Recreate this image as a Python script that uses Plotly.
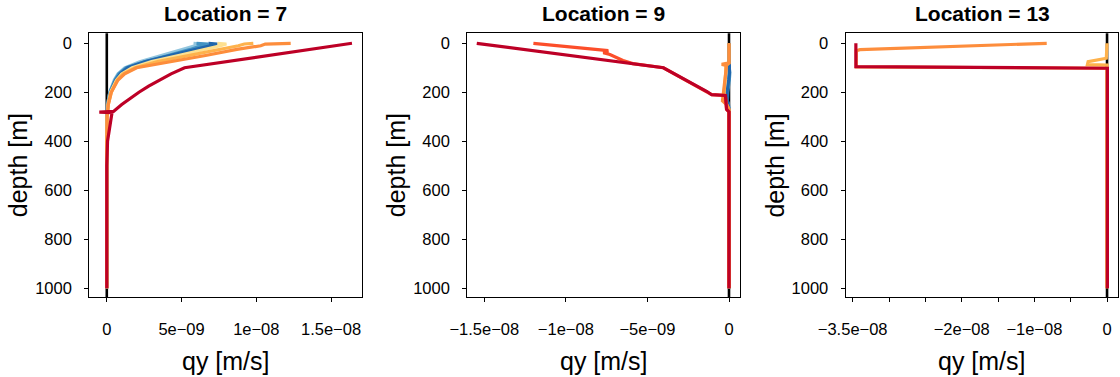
import plotly.graph_objects as go

# ---------------- data (qy in m/s, depth in m) ----------------
# Location 7
loc7_depth = [0, 3, 10, 25, 50, 75, 100, 125, 150, 200, 250, 300, 400, 500, 700, 1000]
loc7_qy_darkblue = [6.8e-9, 7.4e-9, 6.9e-9, 5.9e-9, 4.3e-9, 2.6e-9, 1.4e-9, 0.9e-9, 0.6e-9, 0.25e-9, 0.08e-9, 0.02e-9, 0, 0, 0, 0]
loc7_qy_midblue = [6.0e-9, 6.8e-9, 6.3e-9, 5.6e-9, 4.1e-9, 2.5e-9, 1.3e-9, 0.8e-9, 0.55e-9, 0.2e-9, 0.06e-9, 0.01e-9, 0, 0, 0, 0]
loc7_qy_lightblue = [5.8e-9, 6.3e-9, 5.9e-9, 5.0e-9, 3.6e-9, 2.2e-9, 1.2e-9, 0.75e-9, 0.5e-9, 0.2e-9, 0.05e-9, 0.01e-9, 0, 0, 0, 0]
loc7_qy_yellow = [7.4e-9, 8.0e-9, 7.6e-9, 6.6e-9, 4.8e-9, 3.0e-9, 1.7e-9, 1.0e-9, 0.65e-9, 0.25e-9, 0.08e-9, 0.02e-9, 0, 0, 0, 0]
loc7_qy_lightorange = [9.8e-9, 9.2e-9, 8.8e-9, 7.5e-9, 5.4e-9, 3.4e-9, 1.9e-9, 1.1e-9, 0.7e-9, 0.3e-9, 0.1e-9, 0.02e-9, 0, 0, 0, 0]
loc7_qy_orange = [1.23e-8, 1.06e-8, 1.03e-8, 8.7e-9, 6.6e-9, 4.2e-9, 2.0e-9, 1.2e-9, 0.75e-9, 0.3e-9, 0.1e-9, 0.02e-9, 0, 0, 0, 0]
loc7_red_depth = [0, 100, 125, 150, 175, 200, 225, 250, 278, 281, 283, 400, 500, 1000]
loc7_qy_red = [1.64e-8, 5.2e-9, 4.3e-9, 3.5e-9, 2.8e-9, 2.15e-9, 1.55e-9, 1.0e-9, 0.45e-9, -0.5e-9, 0.35e-9, 0.05e-9, 0, 0]

# Location 9
loc9_depth = [0, 80, 86, 90, 120, 150, 200, 235, 250, 270, 1000]
loc9_qy_darkblue = [0, 0, 0, 0, 0.03e-9, -0.02e-9, -0.12e-9, -0.1e-9, -0.05e-9, 0, 0]
loc9_qy_midblue = [0, 0, 0, 0, 0.05e-9, 0.02e-9, -0.08e-9, -0.1e-9, -0.03e-9, 0, 0]
loc9_qy_lightblue = [0, 0, 0, 0, 0, -0.02e-9, -0.15e-9, -0.12e-9, -0.05e-9, 0, 0]
loc9_qy_yellow = [0, 0, -0.1e-9, -0.2e-9, -0.2e-9, -0.25e-9, -0.3e-9, -0.25e-9, -0.15e-9, 0, 0]
loc9_qy_orange = [0, 0, -0.45e-9, -0.15e-9, -0.2e-9, -0.25e-9, -0.35e-9, -0.4e-9, -0.15e-9, 0, 0]
loc9_redorange_depth = [0, 30, 38, 46, 70, 83, 100, 197, 210, 213, 270, 280, 1000]
loc9_qy_redorange = [-1.199e-8, -7.4e-9, -7.7e-9, -7.3e-9, -6.5e-9, -5.9e-9, -4.02e-9, -1.35e-9, -1.06e-9, -0.22e-9, -0.15e-9, 0, 0]
loc9_red_depth = [0, 100, 197, 210, 213, 270, 280, 1000]
loc9_qy_red = [-1.546e-8, -4.02e-9, -1.35e-9, -1.06e-9, -0.22e-9, -0.15e-9, 0, 0]

# Location 13
loc13_lightorange_depth = [0, 61, 75, 87, 89, 1000]
loc13_qy_lightorange = [0, -0.1e-9, -2.6e-9, -2.7e-9, 0, 0]
loc13_orange_depth = [0, 7, 16, 26, 30, 96, 102, 1000]
loc13_qy_orange = [-8.3e-9, -1.56e-8, -2.48e-8, -3.40e-8, -3.45e-8, -3.45e-8, 0, 0]
loc13_red_depth = [0, 95, 102, 1000]
loc13_qy_red = [-3.456e-8, -3.456e-8, 0.05e-9, 0.05e-9]

panel_titles = ["Location = 7", "Location = 9", "Location = 13"]
depth_ticks = [0, 200, 400, 600, 800, 1000]
x_ticks_7 = [0, 5e-9, 1e-8, 1.5e-8]
x_text_7 = ["0", "5e\u221209", "1e\u221208", "1.5e\u221208"]
x_ticks_9 = [-1.5e-8, -1e-8, -5e-9, 0]
x_text_9 = ["\u22121.5e\u221208", "\u22121e\u221208", "\u22125e\u221209", "0"]
x_ticks_13 = [-3.5e-8, -3e-8, -2.5e-8, -2e-8, -1.5e-8, -1e-8, -5e-9, 0]
x_text_13 = ["\u22123.5e\u221208", "", "", "\u22122e\u221208", "", "\u22121e\u221208", "", "0"]

# ---------------- styling ----------------
C_DBLUE = "#2166AC"
C_MBLUE = "#4393C3"
C_LBLUE = "#92C5DE"
C_YEL = "#FEE090"
C_LORG = "#FEB24C"
C_ORG = "#FD8D3C"
C_RORG = "#FC4E2A"
C_RED = "#BD0026"
LW = 3.2
FONT = "Liberation Sans, Arial, sans-serif"

W, H = 1120, 377
x_px = [(89.3, 362.0), (467.3, 740.0), (845.7, 1118.3)]
y_px = (33.3, 297.0)
x_ranges = [[-1.17e-9, 1.707e-8], [-1.604e-8, 0.674e-9], [-3.596e-8, 1.55e-9]]
y_range = [1036, -40.8]

fig = go.Figure()

def add(panel, depth, qy, color):
    fig.add_trace(go.Scatter(
        x=qy, y=depth, mode="lines",
        line=dict(color=color, width=LW),
        xaxis="x" if panel == 1 else f"x{panel}",
        yaxis="y" if panel == 1 else f"y{panel}",
        showlegend=False, hoverinfo="skip"))

add(1, loc7_depth, loc7_qy_lightblue, C_LBLUE)
add(1, loc7_depth, loc7_qy_midblue, C_MBLUE)
add(1, loc7_depth, loc7_qy_darkblue, C_DBLUE)
add(1, loc7_depth, loc7_qy_yellow, C_YEL)
add(1, loc7_depth, loc7_qy_lightorange, C_LORG)
add(1, loc7_depth, loc7_qy_orange, C_ORG)
add(1, loc7_red_depth, loc7_qy_red, C_RED)

add(2, loc9_depth, loc9_qy_lightblue, C_LBLUE)
add(2, loc9_depth, loc9_qy_midblue, C_MBLUE)
add(2, loc9_depth, loc9_qy_darkblue, C_DBLUE)
add(2, loc9_depth, loc9_qy_yellow, C_LORG)
add(2, loc9_depth, loc9_qy_orange, C_ORG)
add(2, loc9_redorange_depth, loc9_qy_redorange, C_RORG)
add(2, loc9_red_depth, loc9_qy_red, C_RED)

add(3, loc13_lightorange_depth, loc13_qy_lightorange, C_LORG)
add(3, loc13_orange_depth, loc13_qy_orange, C_ORG)
add(3, loc13_red_depth, loc13_qy_red, C_RED)

xticks = [(x_ticks_7, x_text_7), (x_ticks_9, x_text_9), (x_ticks_13, x_text_13)]
layout = dict(width=W, height=H, margin=dict(l=0, r=0, t=0, b=0),
              paper_bgcolor="white", plot_bgcolor="white",
              font=dict(family=FONT, color="black"))
shapes = []
annotations = []
for i in range(3):
    n = "" if i == 0 else str(i + 1)
    x0, x1 = x_px[i]
    layout["xaxis" + n] = dict(
        domain=[x0 / W, x1 / W], range=x_ranges[i], anchor="y" + n,
        tickvals=xticks[i][0], ticktext=xticks[i][1], ticks="outside", ticklen=4,
        tickwidth=1, tickcolor="black", showline=True, linecolor="black", linewidth=1.3,
        mirror=True, showgrid=False, zeroline=False, tickfont=dict(size=16.5),
        ticklabelstandoff=13, automargin=False)
    layout["yaxis" + n] = dict(
        domain=[1 - y_px[1] / H, 1 - y_px[0] / H], range=y_range, anchor="x" + n,
        tickvals=depth_ticks, ticks="outside", ticklen=4, tickwidth=1, tickcolor="black",
        showline=True, linecolor="black", linewidth=1.3, mirror=True, showgrid=False,
        zeroline=False, tickfont=dict(size=16.5), ticklabelstandoff=9, automargin=False)
    shapes.append(dict(type="line", xref="x" + n, yref="y" + n + " domain",
                       x0=0, x1=0, y0=0, y1=1, layer="below",
                       line=dict(color="black", width=2.6)))
    cx = (x0 + x1) / 2
    annotations.append(dict(text="<b>" + panel_titles[i] + "</b>", xref="paper", yref="paper",
                            x=cx / W, y=1 - 13.5 / H, xanchor="center", yanchor="middle",
                            showarrow=False, font=dict(size=21)))
    annotations.append(dict(text="qy [m/s]", xref="paper", yref="paper",
                            x=cx / W, y=1 - 361 / H, xanchor="center", yanchor="middle",
                            showarrow=False, font=dict(size=25)))
    annotations.append(dict(text="depth [m]", xref="paper", yref="paper",
                            x=(x0 - 71.6) / W, y=1 - 165.5 / H, xanchor="center", yanchor="middle",
                            textangle=-90, showarrow=False, font=dict(size=25)))
layout["shapes"] = shapes
layout["annotations"] = annotations
fig.update_layout(**layout)
fig.write_html("out.html", config={"displayModeBar": False},
               post_script="document.body.style.margin='0';document.body.style.padding='0';")
